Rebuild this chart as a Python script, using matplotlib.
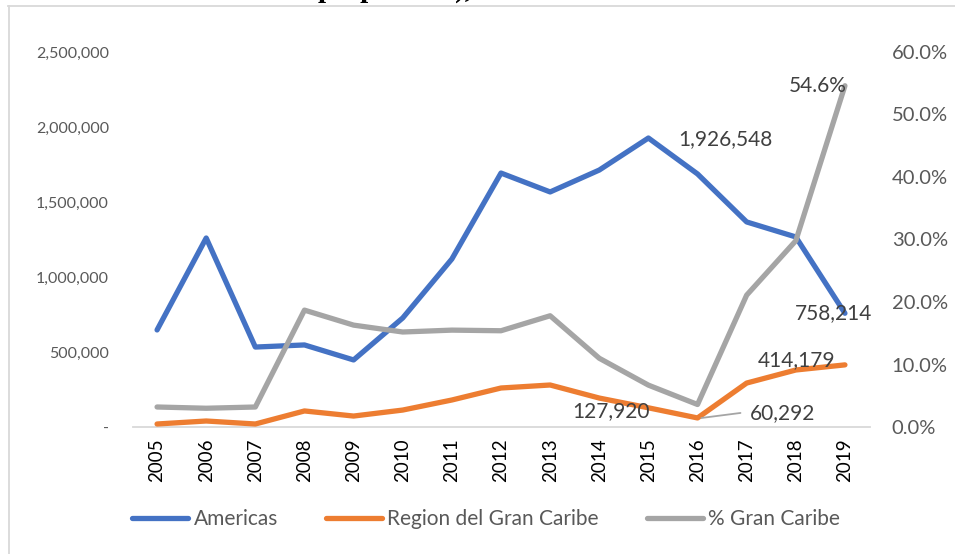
import matplotlib
matplotlib.use("Agg")
import matplotlib.pyplot as plt
from matplotlib.lines import Line2D
from matplotlib.ticker import FuncFormatter, FixedLocator

years = [2005, 2006, 2007, 2008, 2009, 2010, 2011, 2012, 2013, 2014, 2015, 2016, 2017, 2018, 2019]
americas = [647000, 1260000, 533000, 547000, 447000, 727000, 1120000, 1693000, 1567000, 1713000,
            1926548, 1687000, 1367000, 1267000, 758214]
gran_caribe = [20000, 40000, 20000, 107000, 73000, 113000, 180000, 260000, 280000, 193000,
               127920, 60292, 293000, 380000, 414179]
pct_caribe = [0.032, 0.030, 0.032, 0.187, 0.163, 0.152, 0.155, 0.154, 0.178, 0.110,
              0.067, 0.036, 0.211, 0.298, 0.546]
left_ticks = [0, 500000, 1000000, 1500000, 2000000, 2500000]
right_ticks = [0.0, 0.1, 0.2, 0.3, 0.4, 0.5, 0.6]
series_names = ["Americas", "Region del Gran Caribe", "% Gran Caribe"]

BLUE, ORANGE, GRAY = "#4472C4", "#ED7D31", "#A5A5A5"
TXT = "#595959"
LBL = "#404040"
FONT = "Lato"
W, H = 955, 554

fig = plt.figure(figsize=(W / 100, H / 100), dpi=100)
ax = fig.add_axes([132.5 / W, 1 - 427 / H, (869.5 - 132.5) / W, (427 - 52) / H])
ax2 = ax.twinx()

lw = 3.8
ax.plot(years, americas, color=BLUE, lw=lw, solid_capstyle="round", solid_joinstyle="round", zorder=3)
ax.plot(years, gran_caribe, color=ORANGE, lw=lw, solid_capstyle="round", solid_joinstyle="round", zorder=3)
ax2.plot(years, pct_caribe, color=GRAY, lw=lw, solid_capstyle="round", solid_joinstyle="round", zorder=3)

ax.set_xlim(years[0] - 0.5, years[-1] + 0.5)
ax.set_ylim(0, 2500000)
ax2.set_ylim(0, 0.6)

ax.yaxis.set_major_locator(FixedLocator(left_ticks))
ax.yaxis.set_major_formatter(FuncFormatter(lambda v, p: "-" if v == 0 else f"{int(v):,}"))
ax2.yaxis.set_major_locator(FixedLocator(right_ticks))
ax2.yaxis.set_major_formatter(FuncFormatter(lambda v, p: f"{v*100:.1f}%"))
ax.set_xticks(years)
ax.set_xticklabels([str(y) for y in years], rotation=90)

for a in (ax, ax2):
    for s in ["top", "left", "right"]:
        a.spines[s].set_visible(False)
    a.spines["bottom"].set_color("#D9D9D9")
    a.spines["bottom"].set_linewidth(1.3)
    a.tick_params(length=0)
ax2.spines["bottom"].set_visible(False)

for t in ax.get_yticklabels():
    t.set_fontfamily(FONT); t.set_fontsize(11.5); t.set_color(TXT)
for t in ax2.get_yticklabels():
    t.set_fontfamily(FONT); t.set_fontsize(14.5); t.set_color(TXT)
for t in ax.get_xticklabels():
    t.set_fontfamily(FONT); t.set_fontsize(13.5); t.set_color("#000000")
ax.tick_params(axis="y", pad=17)
ax2.tick_params(axis="y", pad=16)
ax.tick_params(axis="x", pad=8)

lab_kw = dict(textcoords="offset pixels", fontsize=15, fontfamily=FONT, color=LBL,
              ha="center", va="center", zorder=5)
i15 = years.index(2015)
i16 = years.index(2016)
i19 = years.index(2019)
ax.annotate(f"{americas[i15]:,}", xy=(years[i15], americas[i15]), xytext=(77, -1), **lab_kw)
ax.annotate(f"{americas[i19]:,}", xy=(years[i19], americas[i19]), xytext=(-11, 0), **lab_kw)
ax2.annotate(f"{pct_caribe[i19]*100:.1f}%", xy=(years[i19], pct_caribe[i19]), xytext=(-27, 0), **lab_kw)
ax.annotate(f"{gran_caribe[i19]:,}", xy=(years[i19], gran_caribe[i19]), xytext=(-48, 5), **lab_kw)
ax.annotate(f"{gran_caribe[i15]:,}", xy=(years[i15], gran_caribe[i15]), xytext=(-37, -3), **lab_kw)
ax.annotate(f"{gran_caribe[i16]:,}", xy=(years[i16], gran_caribe[i16]), xytext=(85, 5), **lab_kw)
# leader line for 60,292
ax.annotate("", xy=(years[i16] + 0.08, gran_caribe[i16]), xytext=(39, 5), textcoords="offset pixels",
            arrowprops=dict(arrowstyle="-", color=GRAY, lw=1.3, shrinkA=0, shrinkB=0), zorder=4)

handles = [Line2D([0], [0], color=c, lw=lw, solid_capstyle="round") for c in (BLUE, ORANGE, GRAY)]
leg = fig.legend(handles, series_names, loc="center", bbox_to_anchor=(486 / W, 1 - 519 / H),
                 ncol=3, frameon=False, handlelength=2.7, handletextpad=0.25, columnspacing=2.3,
                 prop={"family": FONT, "size": 15})
for t in leg.get_texts():
    t.set_color(TXT)

# partially visible title at the top
fig.text(318 / W, 1 + 3 / H, "proporción),", fontsize=21, fontweight="bold",
         fontfamily="Liberation Serif", ha="left", va="baseline", color="#000000")

# chart frame (top and left edges visible)
fig.add_artist(Line2D([8 / W, 1.0], [1 - 6 / H, 1 - 6 / H], transform=fig.transFigure, color="#D9D9D9", lw=1.3))
fig.add_artist(Line2D([8.5 / W, 8.5 / W], [0, 1 - 6 / H], transform=fig.transFigure, color="#D9D9D9", lw=1.3))

fig.savefig("out.png", dpi=100, facecolor="white")
